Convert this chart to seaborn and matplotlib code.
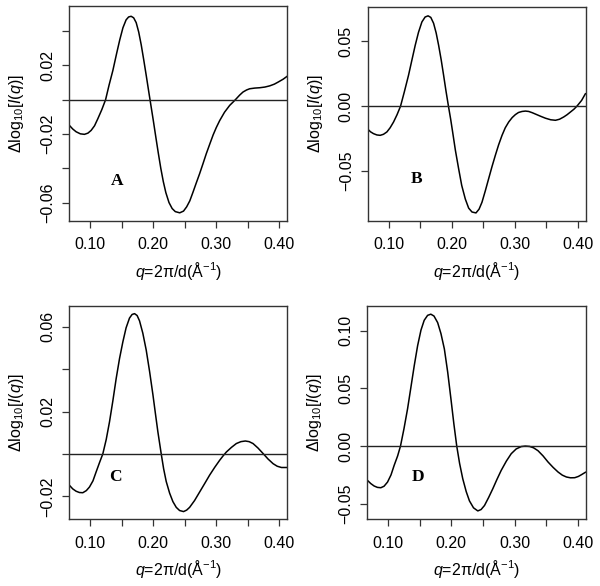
import matplotlib
matplotlib.use("Agg")
import matplotlib.pyplot as plt
import seaborn as sns
import pandas as pd

q_a = [0.0672, 0.0725, 0.0778, 0.0845, 0.0910, 0.0965, 0.1016, 0.1070, 0.1122, 0.1185,
       0.1245, 0.1300, 0.1360, 0.1420, 0.1470, 0.1520, 0.1570, 0.1610, 0.1650, 0.1690,
       0.1730, 0.1770, 0.1810, 0.1850, 0.1890, 0.1930, 0.1960, 0.2000, 0.2040, 0.2080,
       0.2120, 0.2160, 0.2200, 0.2250, 0.2300, 0.2350, 0.2420, 0.2480, 0.2530, 0.2580,
       0.2630, 0.2680, 0.2735, 0.2790, 0.2841, 0.2900, 0.2950, 0.3000, 0.3053, 0.3130,
       0.3212, 0.3270, 0.3317, 0.3370, 0.3423, 0.3480, 0.3529, 0.3610, 0.3688, 0.3770,
       0.3847, 0.3920, 0.3980, 0.4060, 0.4127]
d_a = [-0.0150, -0.0171, -0.0187, -0.0199, -0.0202, -0.0195, -0.0179, -0.0152, -0.0111, -0.0058,
       0.0000, 0.0085, 0.0170, 0.0270, 0.0350, 0.0420, 0.0466, 0.0483, 0.0487, 0.0478,
       0.0450, 0.0395, 0.0320, 0.0232, 0.0140, 0.0045, -0.0025, -0.0118, -0.0215, -0.0310,
       -0.0400, -0.0478, -0.0542, -0.0600, -0.0635, -0.0653, -0.0660, -0.0650, -0.0625, -0.0590,
       -0.0540, -0.0488, -0.0432, -0.0372, -0.0315, -0.0255, -0.0205, -0.0162, -0.0122, -0.0073,
       -0.0033, -0.0012, 0.0006, 0.0027, 0.0045, 0.0057, 0.0064, 0.0068, 0.0070, 0.0074,
       0.0081, 0.0091, 0.0103, 0.0120, 0.0138]

q_b = [0.0672, 0.0715, 0.0762, 0.0815, 0.0868, 0.0920, 0.0974, 0.1025, 0.1080, 0.1135,
       0.1190, 0.1250, 0.1317, 0.1370, 0.1423, 0.1475, 0.1529, 0.1580, 0.1627, 0.1670,
       0.1714, 0.1755, 0.1794, 0.1835, 0.1873, 0.1910, 0.1950, 0.1985, 0.2016, 0.2060,
       0.2111, 0.2160, 0.2217, 0.2270, 0.2323, 0.2386, 0.2435, 0.2481, 0.2535, 0.2587,
       0.2640, 0.2693, 0.2745, 0.2799, 0.2850, 0.2905, 0.2960, 0.3011, 0.3060, 0.3116,
       0.3170, 0.3222, 0.3280, 0.3328, 0.3410, 0.3487, 0.3570, 0.3646, 0.3710, 0.3778,
       0.3830, 0.3884, 0.3940, 0.3990, 0.4060, 0.4122]
d_b = [-0.0177, -0.0197, -0.0211, -0.0221, -0.0224, -0.0216, -0.0198, -0.0166, -0.0121, -0.0065,
       0.0000, 0.0110, 0.0239, 0.0355, 0.0470, 0.0570, 0.0650, 0.0688, 0.0697, 0.0685,
       0.0640, 0.0565, 0.0470, 0.0357, 0.0239, 0.0120, 0.0000, -0.0100, -0.0198, -0.0340,
       -0.0481, -0.0610, -0.0715, -0.0785, -0.0815, -0.0822, -0.0793, -0.0740, -0.0650, -0.0558,
       -0.0465, -0.0378, -0.0297, -0.0224, -0.0166, -0.0121, -0.0087, -0.0064, -0.0048, -0.0040,
       -0.0037, -0.0040, -0.0050, -0.0060, -0.0077, -0.0092, -0.0104, -0.0108, -0.0100, -0.0082,
       -0.0065, -0.0044, -0.0022, 0.0003, 0.0045, 0.0098]

q_c = [0.0672, 0.0725, 0.0778, 0.0830, 0.0884, 0.0940, 0.0990, 0.1045, 0.1095, 0.1150,
       0.1201, 0.1255, 0.1307, 0.1360, 0.1413, 0.1466, 0.1519, 0.1570, 0.1624, 0.1665,
       0.1704, 0.1745, 0.1783, 0.1835, 0.1889, 0.1942, 0.1995, 0.2035, 0.2074, 0.2127,
       0.2165, 0.2206, 0.2260, 0.2312, 0.2365, 0.2418, 0.2481, 0.2530, 0.2577, 0.2655,
       0.2735, 0.2815, 0.2894, 0.2975, 0.3053, 0.3105, 0.3159, 0.3240, 0.3317, 0.3390,
       0.3460, 0.3520, 0.3582, 0.3660, 0.3741, 0.3820, 0.3900, 0.3965, 0.4032, 0.4127]
d_c = [-0.0148, -0.0165, -0.0176, -0.0182, -0.0183, -0.0173, -0.0156, -0.0127, -0.0085, -0.0040,
       0.0000, 0.0068, 0.0151, 0.0250, 0.0356, 0.0450, 0.0529, 0.0595, 0.0641, 0.0658,
       0.0662, 0.0653, 0.0628, 0.0570, 0.0490, 0.0390, 0.0280, 0.0190, 0.0104, 0.0000,
       -0.0070, -0.0130, -0.0185, -0.0225, -0.0252, -0.0267, -0.0272, -0.0265, -0.0252, -0.0220,
       -0.0180, -0.0140, -0.0100, -0.0063, -0.0030, -0.0010, 0.0009, 0.0031, 0.0049, 0.0058,
       0.0061, 0.0058, 0.0049, 0.0028, 0.0002, -0.0024, -0.0046, -0.0058, -0.0064, -0.0064]

q_d = [0.0672, 0.0725, 0.0778, 0.0830, 0.0884, 0.0935, 0.0990, 0.1045, 0.1095, 0.1150,
       0.1195, 0.1250, 0.1307, 0.1360, 0.1413, 0.1466, 0.1519, 0.1570, 0.1624, 0.1675,
       0.1725, 0.1783, 0.1835, 0.1889, 0.1942, 0.1995, 0.2040, 0.2085, 0.2130, 0.2180,
       0.2235, 0.2286, 0.2350, 0.2418, 0.2470, 0.2524, 0.2590, 0.2656, 0.2720, 0.2788,
       0.2870, 0.2947, 0.3025, 0.3106, 0.3170, 0.3238, 0.3300, 0.3370, 0.3450, 0.3529,
       0.3610, 0.3688, 0.3755, 0.3820, 0.3885, 0.3952, 0.4010, 0.4058, 0.4127]
d_d = [-0.0297, -0.0325, -0.0346, -0.0358, -0.0361, -0.0348, -0.0312, -0.0250, -0.0167, -0.0085,
       0.0000, 0.0150, 0.0323, 0.0510, 0.0698, 0.0870, 0.1005, 0.1090, 0.1133, 0.1143,
       0.1127, 0.1070, 0.0975, 0.0842, 0.0640, 0.0400, 0.0190, 0.0000, -0.0150, -0.0283,
       -0.0395, -0.0475, -0.0535, -0.0562, -0.0550, -0.0515, -0.0445, -0.0369, -0.0290, -0.0211,
       -0.0130, -0.0066, -0.0025, -0.0004, 0.0000, -0.0003, -0.0015, -0.0040, -0.0085, -0.0138,
       -0.0185, -0.0225, -0.0252, -0.0268, -0.0275, -0.0274, -0.0263, -0.0248, -0.0225]

panel_names = ["A", "B", "C", "D"]
x_ticks = [0.10, 0.15, 0.20, 0.25, 0.30, 0.35, 0.40]
x_labels = ["0.10", "", "0.20", "", "0.30", "", "0.40"]
y_ticks = {
    "A": [-0.06, -0.04, -0.02, 0.0, 0.02, 0.04],
    "B": [-0.05, 0.0, 0.05],
    "C": [-0.02, 0.0, 0.02, 0.04, 0.06],
    "D": [-0.05, 0.0, 0.05, 0.10],
}
y_labels = {
    "A": ["\u22120.06", "", "\u22120.02", "", "0.02", ""],
    "B": ["\u22120.05", "0.00", "0.05"],
    "C": ["\u22120.02", "", "0.02", "", "0.06"],
    "D": ["\u22120.05", "0.00", "0.05", "0.10"],
}
y_limits = {"A": (-0.0706, 0.0547), "B": (-0.0882, 0.0769),
            "C": (-0.0307, 0.0698), "D": (-0.0632, 0.1214)}
letter_pos = {"A": (0.1429, -0.0475), "B": (0.145, -0.056),
              "C": (0.1397, -0.011), "D": (0.1466, -0.0271)}

curves = {"A": (q_a, d_a), "B": (q_b, d_b), "C": (q_c, d_c), "D": (q_d, d_d)}

sns.set_style("white")
plt.rcParams["font.family"] = ["Liberation Sans", "DejaVu Sans"]
plt.rcParams["mathtext.fontset"] = "custom"
plt.rcParams["mathtext.rm"] = "Liberation Sans"
plt.rcParams["mathtext.it"] = "Liberation Sans:italic"
plt.rcParams["text.color"] = "black"
plt.rcParams["axes.labelcolor"] = "black"
plt.rcParams["xtick.color"] = "black"
plt.rcParams["ytick.color"] = "black"

fig = plt.figure(figsize=(6, 5.86), dpi=100)
W, H = 600, 586
# axes boxes in pixels: left, top, right, bottom
boxes = {"A": (69.3, 6, 287.3, 220.7), "B": (367.7, 6.5, 585.7, 220.7),
         "C": (69.3, 306, 287.3, 519), "D": (367.3, 306, 585.7, 519)}

for name in panel_names:
    l, t, r, b = boxes[name]
    ax = fig.add_axes([l / W, 1 - b / H, (r - l) / W, (b - t) / H])
    q, d = curves[name]
    df = pd.DataFrame({"q": q, "d": d})
    sns.lineplot(data=df, x="q", y="d", ax=ax, color="black", lw=1.1, sort=False)
    ax.axhline(0, color="#222222", lw=1.0)
    ax.set_xlim(0.067, 0.4125)
    ax.set_ylim(*y_limits[name])
    ax.set_xticks(x_ticks)
    ax.set_xticklabels(x_labels, fontsize=11.5)
    ax.set_yticks(y_ticks[name])
    ax.set_yticklabels(y_labels[name], fontsize=11.5, rotation=90, va="center")
    ax.tick_params(axis="both", direction="out", length=5, width=0.9, color="#333333",
                   bottom=True, left=True)
    ax.tick_params(axis="x", pad=7)
    ax.tick_params(axis="y", pad=5)
    for s in ax.spines.values():
        s.set_visible(True)
        s.set_color("#333333")
        s.set_linewidth(1.0)
    ax.set_xlabel(r"$q$=2π/d(Å$^{-1}$)", fontsize=11.5, va="center")
    ax.set_ylabel(r"Δlog$_{10}$[$I$($q$)]", fontsize=11.5, va="center")
    ax.xaxis.set_label_coords(0.5, -0.235)
    ax.yaxis.set_label_coords(-0.24, 0.5)
    lx, ly = letter_pos[name]
    ax.text(lx, ly, name, fontsize=12.5, fontweight="bold", family="Liberation Serif",
            ha="center", va="center")

fig.savefig("out.png", dpi=100)
